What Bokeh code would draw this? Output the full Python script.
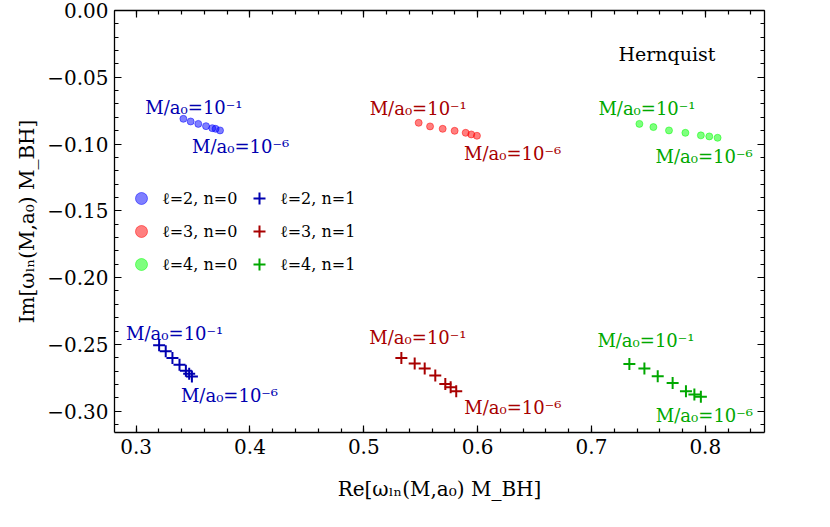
import numpy as np
from bokeh.plotting import figure
from bokeh.models import (Range1d, FixedTicker, LinearAxis, Legend, LegendItem,
                          Label, CustomJSTickFormatter)
from bokeh.core.properties import value
from bokeh.embed import file_html
from bokeh.resources import INLINE

# ---------------- data ----------------
re_l2_n0 = [0.3415, 0.3479, 0.3546, 0.3614, 0.3669, 0.3698, 0.3737]
im_l2_n0 = [-0.0811, -0.0831, -0.0849, -0.0866, -0.0881, -0.0886, -0.0898]
re_l3_n0 = [0.5482, 0.5582, 0.5693, 0.5798, 0.5895, 0.5944, 0.5994]
im_l3_n0 = [-0.0841, -0.0868, -0.0886, -0.0901, -0.0916, -0.0928, -0.0938]
re_l4_n0 = [0.7421, 0.7544, 0.7681, 0.7825, 0.7961, 0.8035, 0.8108]
im_l4_n0 = [-0.0849, -0.0873, -0.0898, -0.0916, -0.0935, -0.0943, -0.0953]

re_l2_n1 = [0.3202, 0.3260, 0.3319, 0.3381, 0.3437, 0.3466, 0.3490]
im_l2_n1 = [-0.2506, -0.2552, -0.2602, -0.2652, -0.2698, -0.2721, -0.2740]
re_l3_n1 = [0.5330, 0.5447, 0.5535, 0.5628, 0.5716, 0.5763, 0.5812]
im_l3_n1 = [-0.2602, -0.2644, -0.2681, -0.2734, -0.2796, -0.2821, -0.2851]
re_l4_n1 = [0.7333, 0.7465, 0.7582, 0.7713, 0.7830, 0.7904, 0.7961]
im_l4_n1 = [-0.2647, -0.2681, -0.2739, -0.2789, -0.2851, -0.2875, -0.2893]

legend_labels_n0 = ["ℓ=2, n=0", "ℓ=3, n=0", "ℓ=4, n=0"]
legend_labels_n1 = ["ℓ=2, n=1", "ℓ=3, n=1", "ℓ=4, n=1"]
label_first = "M/a₀=10⁻¹"
label_last = "M/a₀=10⁻⁶"
panel_title = "Hernquist"

x_ticks = [0.3, 0.4, 0.5, 0.6, 0.7, 0.8]
x_tick_labels = ["0.3", "0.4", "0.5", "0.6", "0.7", "0.8"]
y_ticks = [0.0, -0.05, -0.1, -0.15, -0.2, -0.25, -0.3]
y_tick_labels = ["0.00", "\u22120.05", "\u22120.10", "\u22120.15", "\u22120.20", "\u22120.25", "\u22120.30"]

x_label = "Re[ωₗₙ(M,a₀) M_BH]"
y_label = "Im[ωₗₙ(M,a₀) M_BH]"

# ---------------- styles ----------------
FONT = "DejaVu Serif"
light = ["blue", "red", "lime"]
dark = ["#0000b0", "#a80000", "#00a800"]
# (x_offset, y_offset) in pixels for first / last point labels
first_off_n0 = [(-38, -11), (-49, -14), (-41, -15)]
last_off_n0 = [(-28, 16), (-13, 18), (-62, 19)]
first_off_n1 = [(-33, -12), (-32, -20), (-32, -23)]
last_off_n1 = [(-11, 19), (8, 16), (-45, 19)]

p = figure(frame_width=650, frame_height=422,
           x_range=Range1d(0.281, 0.852), y_range=Range1d(-0.316, 0.0),
           output_backend="svg", toolbar_location=None,
           min_border_left=114, min_border_top=10, min_border_right=40,
           min_border_bottom=75, background_fill_color="white",
           border_fill_color="white")
p.xgrid.visible = False
p.ygrid.visible = False
p.outline_line_color = None

x_minor = list(np.round(np.arange(0.28, 0.861, 0.02), 2))
y_minor = list(np.round(np.arange(-0.31, 0.001, 0.01), 2))

fmt_code = ("const i = tk.findIndex(t => Math.abs(t - tick) < 1e-9);"
            "return i >= 0 ? lb[i] : '';")
xfmt = CustomJSTickFormatter(args=dict(tk=x_ticks, lb=x_tick_labels), code=fmt_code)
yfmt = CustomJSTickFormatter(args=dict(tk=y_ticks, lb=y_tick_labels), code=fmt_code)
empty_fmt = CustomJSTickFormatter(code="return '';")


def style_axis(ax):
    ax.major_tick_in = 7
    ax.major_tick_out = 0
    ax.minor_tick_in = 4
    ax.minor_tick_out = 0
    ax.axis_line_width = 1.3
    ax.major_tick_line_width = 1.2
    ax.minor_tick_line_width = 1.2
    ax.axis_line_color = "black"
    ax.major_tick_line_color = "black"
    ax.minor_tick_line_color = "black"
    ax.major_label_text_font = FONT
    ax.major_label_text_font_size = "20px"
    ax.major_label_text_color = "black"
    ax.axis_label_text_font = FONT
    ax.axis_label_text_font_size = "20px"
    ax.axis_label_text_font_style = "normal"
    ax.axis_label_text_color = "black"


xa = p.below[0]
ya = p.left[0]
xa.ticker = FixedTicker(ticks=x_ticks, minor_ticks=x_minor)
ya.ticker = FixedTicker(ticks=y_ticks, minor_ticks=y_minor)
xa.formatter = xfmt
ya.formatter = yfmt
style_axis(xa)
style_axis(ya)
xa.major_label_standoff = 6
ya.major_label_standoff = 6
xa.axis_label = x_label
ya.axis_label = y_label
xa.axis_label_standoff = 20
ya.axis_label_standoff = 5

top = LinearAxis(ticker=FixedTicker(ticks=x_ticks, minor_ticks=x_minor), formatter=empty_fmt)
right = LinearAxis(ticker=FixedTicker(ticks=y_ticks, minor_ticks=y_minor), formatter=empty_fmt)
for ax in (top, right):
    style_axis(ax)
    ax.major_label_standoff = 0
p.add_layout(top, "above")
p.add_layout(right, "right")

n0 = [(re_l2_n0, im_l2_n0), (re_l3_n0, im_l3_n0), (re_l4_n0, im_l4_n0)]
n1 = [(re_l2_n1, im_l2_n1), (re_l3_n1, im_l3_n1), (re_l4_n1, im_l4_n1)]

items0, items1 = [], []
for i, (xs, ys) in enumerate(n0):
    r = p.scatter(xs, ys, marker="circle", size=7, fill_color=light[i], fill_alpha=0.5,
                  line_color=light[i], line_alpha=0.5, line_width=1)
    items0.append(LegendItem(label=legend_labels_n0[i], renderers=[r]))
for i, (xs, ys) in enumerate(n1):
    r = p.scatter(xs, ys, marker="cross", size=12, line_color=dark[i], line_width=2)
    items1.append(LegendItem(label=legend_labels_n1[i], renderers=[r]))


def add_labels(series, first_off, last_off):
    for i, (xs, ys) in enumerate(series):
        for (xv, yv, txt, off) in ((xs[0], ys[0], label_first, first_off[i]),
                                   (xs[-1], ys[-1], label_last, last_off[i])):
            p.text(x=[xv], y=[yv], text=[txt], x_offset=off[0], y_offset=off[1],
                   text_font=value(FONT), text_font_size="18px", text_color=dark[i],
                   text_align="left", text_baseline="alphabetic")


add_labels(n0, first_off_n0, last_off_n0)
add_labels(n1, first_off_n1, last_off_n1)

p.add_layout(Label(x=0.7237, y=-0.0325, text=panel_title, text_font=FONT,
                   text_font_size="19px", text_color="black",
                   text_baseline="alphabetic", text_align="left"))


def make_legend(items, loc):
    return Legend(items=items, location=loc, orientation="vertical",
                  glyph_width=30, glyph_height=30, label_standoff=6, spacing=3,
                  padding=0, margin=0, border_line_alpha=0, background_fill_alpha=0,
                  label_text_font=FONT, label_text_font_size="16px",
                  label_text_color="black", label_height=20)


p.add_layout(make_legend(items0, (12, 153)), "center")
p.add_layout(make_legend(items1, (130, 153)), "center")

open("out.html", "w").write(file_html(p, INLINE))
